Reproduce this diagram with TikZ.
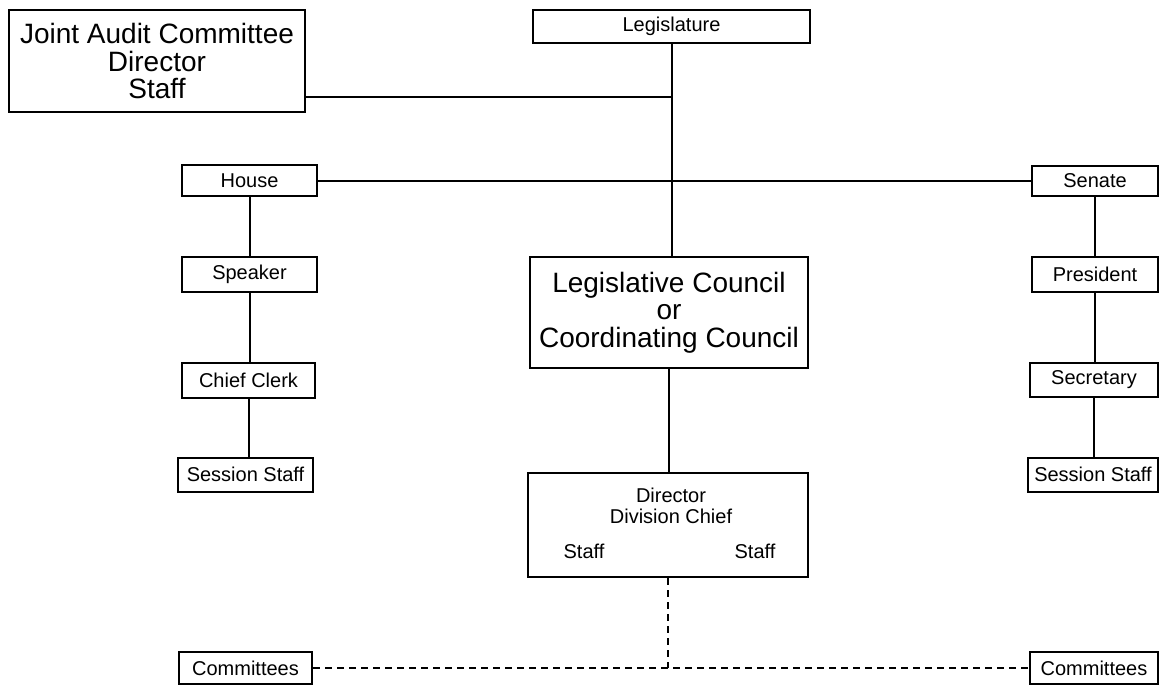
\documentclass[tikz,border=0pt]{standalone}
\usepackage{fontspec}
\setmainfont{Liberation Sans}
\begin{document}
\begin{tikzpicture}[x=1pt,y=-1pt,
  box/.style={draw, line width=2pt, rectangle, inner sep=0pt, align=center,
    font=\fontsize{20}{22}\selectfont},
  bigbox/.style={box, font=\fontsize{28}{27.5}\selectfont},
  link/.style={line width=2pt},
  dlink/.style={line width=2pt, dash pattern=on 7pt off 5pt},
  lbl/.style={inner sep=0pt, font=\fontsize{20}{22}\selectfont}]
\useasboundingbox (0,0) rectangle (1162,686);
% top
\node[bigbox, minimum width=296pt, minimum height=102pt] (jac) at (157,61)
  {Joint Audit Committee\\Director\\Staff};
\node[box, minimum width=277pt, minimum height=33pt] (leg) at (671.5,26.5) {Legislature};
% left column
\node[box, minimum width=135pt, minimum height=31pt] (house) at (249.5,180.5) {House};
\node[box, minimum width=135pt, minimum height=35pt] (speaker) at (249.5,274.5) {Speaker};
\node[box, minimum width=133pt, minimum height=35pt] (clerk) at (248.5,380.5) {Chief Clerk};
\node[box, minimum width=135pt, minimum height=34pt] (sessl) at (245.5,474.5) {Session Staff};
\node[box, minimum width=133pt, minimum height=32pt] (coml) at (245.5,668) {Committees};
% right column
\node[box, minimum width=126pt, minimum height=30pt] (senate) at (1095,180.5) {Senate};
\node[box, minimum width=126pt, minimum height=35pt] (pres) at (1095,274.5) {President};
\node[box, minimum width=128pt, minimum height=34pt] (secr) at (1094,379.5) {Secretary};
\node[box, minimum width=130pt, minimum height=34pt] (sessr) at (1093,474.5) {Session Staff};
\node[box, minimum width=128pt, minimum height=32pt] (comr) at (1094,668) {Committees};
% centre
\node[bigbox, minimum width=278pt, minimum height=111pt] (lc) at (669,312.5)
  {Legislative Council\\or\\Coordinating Council};
\node[box, minimum width=280pt, minimum height=104pt] (dir) at (668,525) {};
\node[lbl, anchor=base] (dirt) at (671,502) {Director};
\node[lbl, anchor=base] (divt) at (671,523) {Division Chief};
\node[lbl, anchor=base] (stl) at (584,558) {Staff};
\node[lbl, anchor=base] (str) at (755,558) {Staff};
% connectors
\coordinate (jt) at (672,97);
\draw[link] (leg.south -| jt) -- (lc.north -| jt);
\draw[link] (jac.east |- jt) -- (jt);
\draw[link] (house.east) -- (senate.west);
\draw[link] (house.south) -- (house.south |- speaker.north);
\draw[link] (speaker.south) -- (speaker.south |- clerk.north);
\draw[link] (clerk.south) -- (clerk.south |- sessl.north);
\draw[link] (senate.south) -- (senate.south |- pres.north);
\draw[link] (pres.south) -- (pres.south |- secr.north);
\draw[link] (secr.south) -- (secr.south |- sessr.north);
\draw[link] (lc.south) -- (lc.south |- dir.north);
\coordinate (cj) at (dir.south |- coml.east);
\draw[dlink] (dir.south) -- (cj);
\draw[dlink] (coml.east) -- (comr.west);
\end{tikzpicture}
\end{document}
